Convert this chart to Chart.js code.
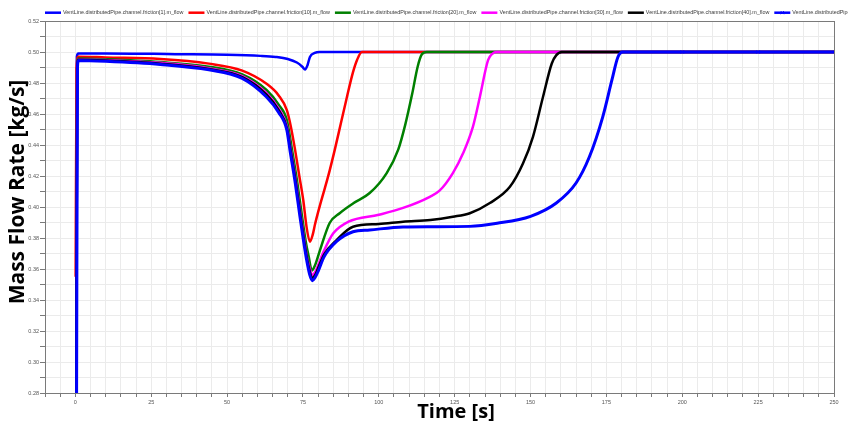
<!DOCTYPE html>
<html>
<head>
<meta charset="utf-8">
<script src="https://cdn.jsdelivr.net/npm/chart.js@4.4.1/dist/chart.umd.min.js"></script>
<style>
html,body{margin:0;padding:0;background:#fff;}
canvas{display:block;}
</style>
</head>
<body>
<canvas id="c" width="848" height="427"></canvas>
<script>
// ---- data ----
const seriesLabels = [
  "VentLine.distributedPipe.channel.friction[1].m_flow",
  "VentLine.distributedPipe.channel.friction[10].m_flow",
  "VentLine.distributedPipe.channel.friction[20].m_flow",
  "VentLine.distributedPipe.channel.friction[30].m_flow",
  "VentLine.distributedPipe.channel.friction[40].m_flow",
  "VentLine.distributedPipe.channel.friction[50].m_flow"
];
const seriesColors = ["#0000ff", "#ff0000", "#008000", "#ff00ff", "#000000", "#0000ff"];

const time_f1 = [0.3, 0.5, 1, 10, 33, 50, 61, 66, 70, 73, 74.8, 75.7, 76.5, 77.3, 78.9, 80.5, 250];
const flow_f1 = [0.27, 0.497, 0.499, 0.4991, 0.4986, 0.4982, 0.4975, 0.4968, 0.4955, 0.4932, 0.4905, 0.4887, 0.4915, 0.4968, 0.4994, 0.5, 0.5];

const time_f10 = [0.1, 0.4, 1, 10, 28, 44, 55, 63, 67, 69.7, 71, 72.4, 73.8, 75.1, 76.2, 77.3, 78.2, 79, 80.6, 82.2, 83.8, 85.5, 87.5, 89.5, 91.5, 92.8, 94.4, 250];
const flow_f10 = [0.355, 0.49, 0.497, 0.4965, 0.4955, 0.4925, 0.488, 0.4795, 0.472, 0.4625, 0.452, 0.437, 0.42, 0.4045, 0.387, 0.3776, 0.382, 0.389, 0.401, 0.412, 0.4235, 0.437, 0.454, 0.471, 0.487, 0.4947, 0.5, 0.5];

const time_f20 = [0.3, 0.6, 1, 10, 28, 44, 55, 63, 67, 69.7, 71.4, 73.2, 74.7, 75.9, 76.9, 77.9, 79, 80.6, 83.8, 87.1, 91.6, 97, 102.6, 106.4, 108.7, 111, 112.8, 114.2, 115.8, 250];
const flow_f20 = [0.27, 0.49, 0.4958, 0.4953, 0.4935, 0.4905, 0.4855, 0.4755, 0.466, 0.456, 0.437, 0.415, 0.394, 0.378, 0.368, 0.359, 0.3625, 0.372, 0.3897, 0.396, 0.4024, 0.409, 0.4219, 0.437, 0.453, 0.473, 0.4905, 0.4985, 0.5, 0.5];

const time_f30 = [0.3, 0.6, 1, 10, 28, 44, 55, 63, 67, 69.7, 71, 72.8, 74.3, 75.5, 76.5, 77.4, 78, 79, 80, 82, 85, 90, 100, 108, 116.8, 120, 124.4, 127.8, 131, 133.3, 136, 137.5, 138.8, 250];
const flow_f30 = [0.27, 0.49, 0.4952, 0.4948, 0.493, 0.4895, 0.4845, 0.4735, 0.4635, 0.452, 0.437, 0.415, 0.394, 0.378, 0.366, 0.3595, 0.356, 0.358, 0.3625, 0.372, 0.383, 0.3905, 0.395, 0.3994, 0.4066, 0.4105, 0.4219, 0.4348, 0.4517, 0.471, 0.4947, 0.499, 0.5, 0.5];

const time_f40 = [0.3, 0.6, 1, 10, 28, 44, 55, 63, 67, 69.7, 70.9, 72.7, 74.2, 75.4, 76.4, 77.3, 78, 79, 80, 82, 86, 91.5, 100, 108, 117, 124.4, 130, 136.6, 143.2, 147.5, 150.8, 154.1, 157, 158.5, 160.3, 250];
const flow_f40 = [0.27, 0.49, 0.495, 0.4945, 0.4925, 0.489, 0.4838, 0.4725, 0.4625, 0.451, 0.437, 0.415, 0.394, 0.378, 0.366, 0.358, 0.354, 0.356, 0.3605, 0.3695, 0.3785, 0.3873, 0.389, 0.3905, 0.3916, 0.3937, 0.396, 0.4026, 0.413, 0.428, 0.4453, 0.471, 0.4926, 0.498, 0.5, 0.5];

const time_f50 = [0.4, 0.7, 1, 10, 28, 44, 55, 63, 67, 69.7, 70.7, 72.5, 74, 75.2, 76.2, 77.2, 78.1, 79, 80, 82, 86, 91.5, 97, 108, 117, 130, 139, 150, 158.5, 165, 169.4, 173.8, 176.8, 178.8, 180.4, 200, 225, 250];
const flow_f50 = [0.27, 0.49, 0.4945, 0.494, 0.492, 0.4885, 0.483, 0.471, 0.461, 0.4496, 0.437, 0.415, 0.394, 0.378, 0.366, 0.3565, 0.3525, 0.3545, 0.3585, 0.368, 0.3776, 0.384, 0.3852, 0.3871, 0.3873, 0.3875, 0.3895, 0.394, 0.4026, 0.4155, 0.4324, 0.4582, 0.4818, 0.4968, 0.5, 0.5, 0.5, 0.5];
const markerTimes_f50 = [200, 225];

const xTickLabels = [0, 25, 50, 75, 100, 125, 150, 175, 200, 225, 250];
const yTickLabels = ["0.28","0.30","0.32","0.34","0.36","0.38","0.40","0.42","0.44","0.46","0.48","0.50","0.52"];
const xTitle = "Time [s]";
const yTitle = "Mass Flow Rate [kg/s]";

// ---- build datasets ----
const times = [time_f1, time_f10, time_f20, time_f30, time_f40, time_f50];
const flows = [flow_f1, flow_f10, flow_f20, flow_f30, flow_f40, flow_f50];
const datasets = seriesLabels.map((lab, i) => ({
  label: lab,
  data: times[i].map((t, k) => ({x: t, y: flows[i][k]})),
  borderColor: seriesColors[i],
  backgroundColor: seriesColors[i],
  borderWidth: i === 5 ? 3 : 2.5,
  pointStyle: 'crossRot',
  pointBorderWidth: 1,
  pointRadius: i === 5 ? (c) => (c.raw && markerTimes_f50.includes(c.raw.x) ? 2.2 : 0) : 0,
  cubicInterpolationMode: 'monotone',
  order: seriesLabels.length - 1 - i
}));

const frameColor = '#7a7a7a';

const framePlugin = {
  id: 'frame',
  beforeDatasetsDraw(chart) {
    const a = chart.chartArea, ctx = chart.ctx;
    ctx.save();
    ctx.strokeStyle = frameColor;
    ctx.lineWidth = 1;
    ctx.strokeRect(Math.round(a.left) + 0.5, Math.round(a.top) + 0.5, Math.round(a.right - a.left), Math.round(a.bottom - a.top));
    ctx.restore();
  },
  afterDraw(chart) {
    const ctx = chart.ctx;
    ctx.save();
    // axis titles
    ctx.fillStyle = '#000';
    ctx.font = 'bold 20px "Open Sans"';
    ctx.textAlign = 'center';
    ctx.textBaseline = 'middle';
    ctx.fillText(xTitle, 456, 412);
    ctx.save();
    ctx.translate(18, 192);
    ctx.rotate(-Math.PI / 2);
    ctx.font = 'bold 21px "Open Sans"';
    ctx.fillText(yTitle, 0, 0);
    ctx.restore();
    // legend row
    ctx.font = '5.4px "Liberation Sans"';
    ctx.textAlign = 'left';
    ctx.textBaseline = 'middle';
    let x = 45;
    const y = 12.7;
    chart.data.datasets.forEach((ds, i) => {
      ctx.strokeStyle = ds.borderColor;
      ctx.lineWidth = 2.5;
      ctx.beginPath();
      ctx.moveTo(x, y);
      ctx.lineTo(x + 16, y);
      ctx.stroke();
      if (i === 5) {
        ctx.lineWidth = 1;
        ctx.beginPath();
        ctx.moveTo(x + 6.5, y - 1.5); ctx.lineTo(x + 9.5, y + 1.5);
        ctx.moveTo(x + 6.5, y + 1.5); ctx.lineTo(x + 9.5, y - 1.5);
        ctx.stroke();
      }
      ctx.fillStyle = '#3a3a3a';
      ctx.fillText(ds.label, x + 18, y);
      x += 18 + ctx.measureText(ds.label).width + 5;
    });
    ctx.restore();
  }
};

new Chart(document.getElementById('c'), {
  type: 'line',
  data: { datasets },
  options: {
    responsive: false,
    animation: false,
    events: [],
    layout: { padding: { top: 21, right: 14, left: 0, bottom: 0 } },
    plugins: { legend: { display: false }, tooltip: { enabled: false } },
    scales: {
      x: {
        type: 'linear',
        min: -10, max: 250,
        afterFit(s) { s.height = 34; },
        border: { display: false },
        grid: { color: '#ebebeb', lineWidth: 1, tickColor: frameColor, tickLength: 4, drawTicks: true },
        ticks: {
          stepSize: 5, autoSkip: false, maxRotation: 0, padding: 2,
          color: '#555', font: { family: 'Liberation Sans', size: 5.5 },
          callback(v) { return xTickLabels.includes(Math.round(v)) && Math.abs(v - Math.round(v)) < 1e-6 ? String(Math.round(v)) : ''; }
        }
      },
      y: {
        type: 'linear',
        min: 0.28, max: 0.52,
        afterFit(s) { s.width = 45; },
        border: { display: false },
        grid: { color: '#ebebeb', lineWidth: 1, tickColor: frameColor, tickLength: 5, drawTicks: true },
        ticks: {
          stepSize: 0.01, autoSkip: false, padding: 1,
          color: '#555', font: { family: 'Liberation Sans', size: 5.5 },
          callback(v) { const s = v.toFixed(2); return yTickLabels.includes(s) ? s : ''; }
        }
      }
    }
  },
  plugins: [framePlugin]
});
</script>
</body>
</html>
